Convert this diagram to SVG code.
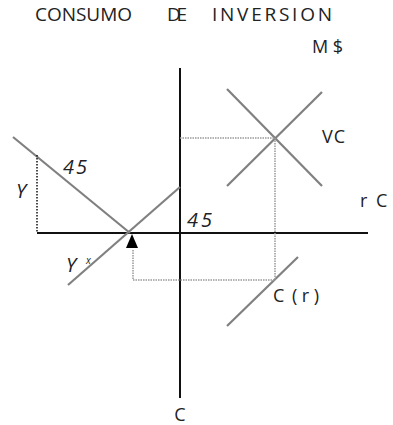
<svg xmlns="http://www.w3.org/2000/svg" width="393" height="425" viewBox="0 0 393 425">
<style>
text{font-family:"Open Sans","DejaVu Sans",sans-serif;fill:#222}
.t{font-size:19px}
.l{font-size:18px}
.it{font-style:italic;font-size:20px}
.ax{stroke:#111;stroke-width:2;fill:none}
.cv{stroke:#808080;stroke-width:2.2;fill:none}
.dt{stroke:#999;stroke-width:1.5;stroke-dasharray:1.5 1;fill:none}
.dk{stroke:#111;stroke-width:1.5;stroke-dasharray:1.5 1.5;fill:none}
</style>
<rect width="393" height="425" fill="#fff"/>
<g id="title">
<text class="t" x="35" y="21" textLength="97" lengthAdjust="spacing">CONSUMO</text>
<text class="t" x="167" y="21" textLength="20" lengthAdjust="spacing">DE</text>
<text class="t" x="212" y="21" textLength="120" lengthAdjust="spacing">INVERSION</text>
</g>
<g id="axes">
<line class="ax" x1="180" y1="68" x2="180" y2="398"/>
<line class="ax" x1="37" y1="233" x2="368" y2="233"/>
</g>
<g id="connectors">
<line class="cv" x1="13" y1="137" x2="130" y2="233"/>
<line class="cv" x1="68" y1="285" x2="180" y2="187"/>
<line class="cv" x1="227" y1="89" x2="322" y2="186"/>
<line class="cv" x1="322" y1="92" x2="227" y2="186"/>
<line class="cv" x1="227" y1="326" x2="298" y2="257"/>
<line class="dk" x1="37" y1="155" x2="37" y2="233"/>
<polyline class="dt" points="133,250 133,280 275,280 275,138 180,138"/>
<polygon points="132,234 126,248 138,248" fill="#000"/>
</g>
<g id="labels">
<text class="l" x="312" y="53" textLength="31" lengthAdjust="spacing">M$</text>
<text class="l" x="322" y="143" textLength="23" lengthAdjust="spacing">VC</text>
<text class="l" x="360" y="207">r</text>
<text class="l" x="376" y="207">C</text>
<text class="l" x="273" y="302">C</text>
<text class="l" x="292" y="302" textLength="27" lengthAdjust="spacing">(r)</text>
<text class="l" x="180" y="421" text-anchor="middle">C</text>
<text class="it" x="63" y="174" textLength="24" lengthAdjust="spacing">45</text>
<text class="it" x="187" y="227" textLength="25" lengthAdjust="spacing">45</text>
<text class="it" x="16" y="198">Y</text>
<text class="it" x="66" y="272">Y</text>
<text style="font-style:italic;font-size:10px" x="86" y="264">x</text>
</g>
</svg>
